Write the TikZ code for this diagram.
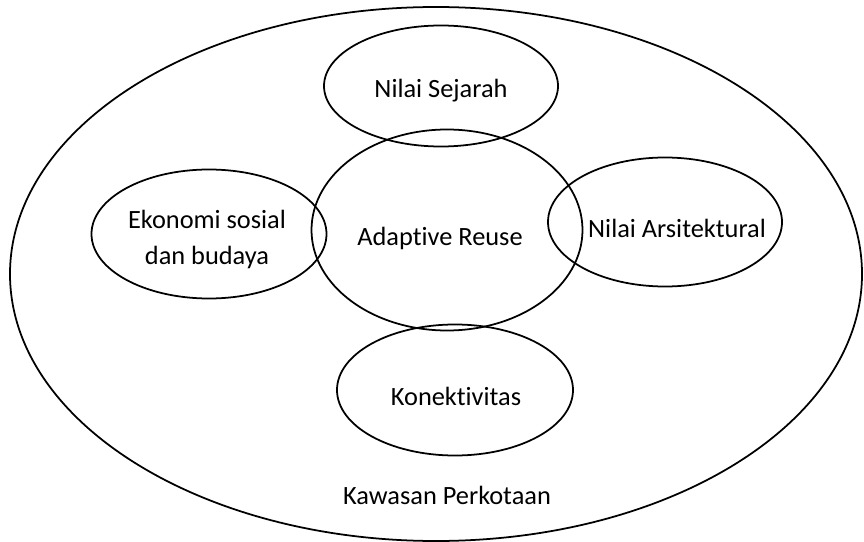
\documentclass[tikz,border=0pt]{standalone}
\usepackage{fontspec}
\setmainfont{Carlito}[Ligatures={NoCommon}]
\usetikzlibrary{shapes.geometric,positioning}

\tikzset{
  zone/.style={draw=black, ellipse, line width=1pt, inner sep=0pt},
  lbl/.style={inner sep=0pt, anchor=base, align=center,
              font=\fontsize{15}{20.5}\selectfont}
}

\begin{document}
\begin{tikzpicture}[x=0.2mm, y=-0.2mm]
    \useasboundingbox (0,0) rectangle (864,542);
    % kawasan luar
    \node[zone, minimum width=852*0.2mm, minimum height=534*0.2mm] (kawasan) at (436,274) {};
    % lingkaran-lingkaran di dalam
    \node[zone, minimum width=271*0.2mm, minimum height=201*0.2mm] (reuse) at (447,230) {};
    \node[zone, minimum width=234*0.2mm, minimum height=121*0.2mm] (sejarah) at (441,86) {};
    \node[zone, minimum width=235*0.2mm, minimum height=129*0.2mm] (ekonomi) at (209,234) {};
    \node[zone, minimum width=234*0.2mm, minimum height=129*0.2mm] (arsitektur) at (665,222) {};
    \node[zone, minimum width=236*0.2mm, minimum height=131*0.2mm] (konek) at (455,390) {};
    % teks
    \node[lbl] (reuse-txt) at (440,245) {Adaptive Reuse};
    \node[lbl] (sejarah-txt) at (441,98) {Nilai Sejarah};
    \node[lbl, anchor=center] (ekonomi-txt) at (207,239) {Ekonomi sosial\\dan budaya};
    \node[lbl] (arsitektur-txt) at (677,237) {Nilai Arsitektural};
    \node[lbl] (konek-txt) at (456,405) {Konektivitas};
    \node[lbl] (kawasan-txt) at (447,504) {Kawasan Perkotaan};
  \end{tikzpicture}
\end{document}
